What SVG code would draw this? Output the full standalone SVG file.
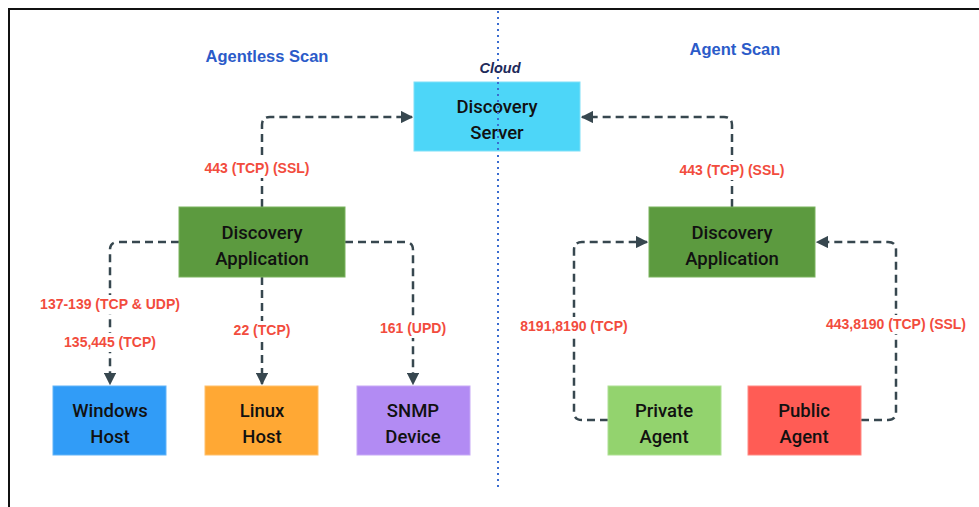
<svg xmlns="http://www.w3.org/2000/svg" width="979" height="507" viewBox="0 0 979 507">
<defs>
<marker id="ah" viewBox="0 0 10 10" refX="9" refY="5" markerWidth="5" markerHeight="5" orient="auto" markerUnits="strokeWidth">
<path d="M0,0 L10,5 L0,10 z" fill="#37474f"/>
</marker>
<style>
.node text{font-family:Roboto,"Liberation Sans",sans-serif;font-size:18.5px;font-weight:500;fill:#111;text-anchor:middle}
.edge{fill:none;stroke:#37474f;stroke-width:2.5;stroke-dasharray:8 5}
.lbl{font-family:"Liberation Sans",Arial,sans-serif;font-size:14px;font-weight:bold;fill:#f24c3d;text-anchor:middle}
.ttl{font-family:"Liberation Sans",Arial,sans-serif;font-size:16.5px;font-weight:bold;fill:#2b5bc9;text-anchor:middle}
.bg{fill:#fff}
</style>
</defs>
<rect width="979" height="507" fill="#fff"/>
<path d="M9,507 V9 H979" fill="none" stroke="#111" stroke-width="2"/>
<line x1="498" y1="11" x2="498" y2="490" stroke="#3a6cd0" stroke-width="2" stroke-dasharray="2 4"/>
<text class="ttl" x="267" y="62">Agentless Scan</text>
<text class="ttl" x="735" y="55">Agent Scan</text>
<text x="500" y="73" font-family="'Liberation Sans',Arial,sans-serif" font-size="14.5" font-weight="bold" font-style="italic" fill="#1e2a5a" text-anchor="middle">Cloud</text>

<g id="connectors">
<path class="edge" d="M262,207 V125 Q262,117 270,117 H412" marker-end="url(#ah)"/>
<path class="edge" d="M732,207 V125 Q732,117 724,117 H582" marker-end="url(#ah)"/>
<path class="edge" d="M179,242 H118 Q110,242 110,250 V384" marker-end="url(#ah)"/>
<path class="edge" d="M262,277 V384" marker-end="url(#ah)"/>
<path class="edge" d="M345,242 H405 Q413,242 413,250 V384" marker-end="url(#ah)"/>
<path class="edge" d="M608,420 H582 Q574,420 574,412 V250 Q574,242 582,242 H647" marker-end="url(#ah)"/>
<path class="edge" d="M861,420 H888 Q896,420 896,412 V250 Q896,242 888,242 H817" marker-end="url(#ah)"/>
<rect class="bg" x="199" y="159" width="116" height="19"/>
<text class="lbl" x="257" y="173">443 (TCP) (SSL)</text>
<rect class="bg" x="674" y="161" width="116" height="19"/>
<text class="lbl" x="732" y="175">443 (TCP) (SSL)</text>
<rect class="bg" x="36" y="295" width="148" height="19"/>
<text class="lbl" x="110" y="309">137-139 (TCP &amp; UDP)</text>
<rect class="bg" x="58" y="333" width="104" height="19"/>
<text class="lbl" x="110" y="347">135,445 (TCP)</text>
<rect class="bg" x="228" y="321" width="68" height="19"/>
<text class="lbl" x="262" y="335">22 (TCP)</text>
<rect class="bg" x="376" y="319" width="74" height="19"/>
<text class="lbl" x="413" y="333">161 (UPD)</text>
<rect class="bg" x="515" y="317" width="118" height="19"/>
<text class="lbl" x="574" y="331">8191,8190 (TCP)</text>
<rect class="bg" x="820" y="315" width="154" height="19"/>
<text class="lbl" x="896" y="329">443,8190 (TCP) (SSL)</text>
</g>

<g id="discovery-server" class="node">
<rect x="414" y="82" width="166" height="69" fill="#4dd6f8" stroke="#7fe0f8" stroke-width="1"/>
<text x="497" y="113">Discovery</text>
<text x="497" y="139">Server</text>
</g>
<line x1="498" y1="82" x2="498" y2="151" stroke="#3a6cd0" stroke-width="2" stroke-dasharray="2 4"/>
<g id="app-left" class="node">
<rect x="179" y="207" width="166" height="70" fill="#5c9a3f" stroke="#7ab35e" stroke-width="1"/>
<text x="262" y="239">Discovery</text>
<text x="262" y="265">Application</text>
</g>
<g id="app-right" class="node">
<rect x="649" y="207" width="166" height="70" fill="#5c9a3f" stroke="#7ab35e" stroke-width="1"/>
<text x="732" y="239">Discovery</text>
<text x="732" y="265">Application</text>
</g>
<g id="windows-host" class="node">
<rect x="53" y="386" width="113" height="69" fill="#319cf7" stroke="#62b4f8" stroke-width="1"/>
<text x="110" y="417">Windows</text>
<text x="110" y="443">Host</text>
</g>
<g id="linux-host" class="node">
<rect x="205" y="386" width="113" height="69" fill="#ffa834" stroke="#ffc06a" stroke-width="1"/>
<text x="262" y="417">Linux</text>
<text x="262" y="443">Host</text>
</g>
<g id="snmp-device" class="node">
<rect x="357" y="386" width="113" height="69" fill="#b28bf3" stroke="#c7a9f6" stroke-width="1"/>
<text x="413" y="417">SNMP</text>
<text x="413" y="443">Device</text>
</g>
<g id="private-agent" class="node">
<rect x="608" y="386" width="113" height="69" fill="#93d36e" stroke="#aee093" stroke-width="1"/>
<text x="664" y="417">Private</text>
<text x="664" y="443">Agent</text>
</g>
<g id="public-agent" class="node">
<rect x="748" y="386" width="113" height="69" fill="#ff5c55" stroke="#ff8a84" stroke-width="1"/>
<text x="804" y="417">Public</text>
<text x="804" y="443">Agent</text>
</g>
</svg>
